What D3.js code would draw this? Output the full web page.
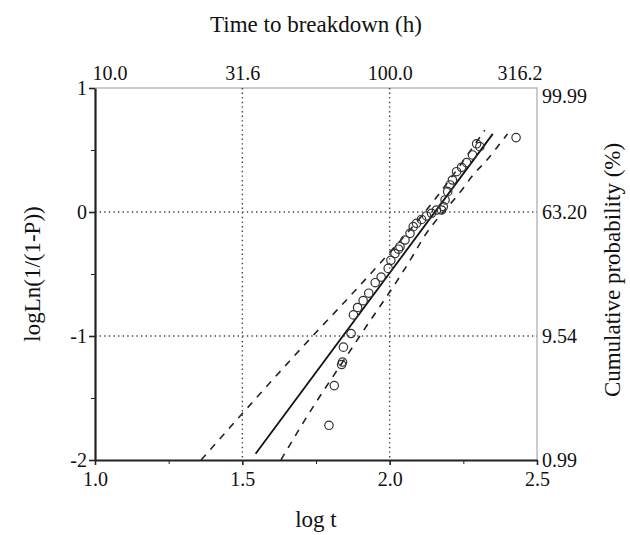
<!DOCTYPE html>
<html>
<head>
<meta charset="utf-8">
<script src="https://cdn.jsdelivr.net/npm/d3@7"></script>
<style>
  body { margin: 0; background: #fff; }
  svg { display: block; font-family: "Liberation Serif", "Times New Roman", serif; }
  .axis { font-family: "Liberation Serif", "Times New Roman", serif; }
  .axis path, .axis line { stroke: #222; }
  .axis text { font-size: 20px; fill: #111; }
  .grid { stroke: #444; stroke-width: 1.4; stroke-dasharray: 1.4,3.2; }
  .frame { stroke: #bbb; stroke-width: 1.5; fill: none; }
  .fit { stroke: #111; stroke-width: 1.8; fill: none; }
  .band { stroke: #222; stroke-width: 1.6; fill: none; stroke-dasharray: 7,7; }
  .pt { stroke: #333; stroke-width: 1.2; fill: none; }
  .title { font-size: 23px; fill: #111; }
</style>
</head>
<body>
<svg id="chart" width="630" height="535"></svg>
<script>
// observed points (log t, logLn(1/(1-P)))
var logT = [1.794, 1.812, 1.837, 1.840, 1.843, 1.869, 1.877, 1.891, 1.910, 1.929,
            1.951, 1.971, 1.995, 2.004, 2.018, 2.030, 2.035, 2.052, 2.069, 2.080,
            2.091, 2.108, 2.125, 2.142, 2.159, 2.176, 2.182, 2.188, 2.197, 2.205,
            2.213, 2.227, 2.244, 2.261, 2.281, 2.295, 2.306, 2.429];
var logLn = [-1.72, -1.40, -1.23, -1.21, -1.09, -0.98, -0.83, -0.77, -0.715, -0.655,
             -0.57, -0.525, -0.455, -0.39, -0.335, -0.30, -0.28, -0.226, -0.172, -0.118,
             -0.091, -0.06, -0.032, -0.011, 0.016, 0.016, 0.043, 0.097, 0.164, 0.218,
             0.258, 0.325, 0.36, 0.398, 0.46, 0.55, 0.527, 0.60];

// fitted line and confidence bands
var fitLine = [[1.545, -1.95], [2.35, 0.63]];
var upperBand = [[1.36, -2.0], [1.763, -0.938], [1.843, -0.736], [1.967, -0.414],
                 [2.125, 0.016], [2.159, 0.119], [2.323, 0.661]];
var lowerBand = [[1.631, -2.0], [1.696, -1.74], [1.899, -1.0], [2.08, -0.347],
                 [2.108, -0.233], [2.249, 0.19], [2.283, 0.298], [2.325, 0.406], [2.40, 0.63]];

// axis ticks
var xTicks = [1.0, 1.5, 2.0, 2.5];
var xMinor = [1.25, 1.75, 2.25];
var yTicks = [1, 0, -1, -2];
var yMinor = [0.5, -0.5, -1.5];
var topLabels = ["10.0", "31.6", "100.0", "316.2"];
var rightLabels = ["99.99", "63.20", "9.54", "0.99"];
var gridX = [1.5, 2.0];
var gridY = [0, -1];

var svg = d3.select("#chart");
var x = d3.scaleLinear().domain([1, 2.5]).range([95, 537]);
var y = d3.scaleLinear().domain([-2, 1]).range([460, 88]);

// frame (top and right, light)
svg.append("path").attr("class", "frame")
    .attr("d", "M" + x(1) + "," + y(1) + "H" + x(2.5) + "V" + y(-2));

// grid
svg.selectAll("line.gx").data(gridX).enter().append("line")
    .attr("class", "grid")
    .attr("x1", d => x(d)).attr("x2", d => x(d))
    .attr("y1", y(1)).attr("y2", y(-2));
svg.selectAll("line.gy").data(gridY).enter().append("line")
    .attr("class", "grid")
    .attr("x1", x(1)).attr("x2", x(2.5))
    .attr("y1", d => y(d)).attr("y2", d => y(d));

// minor ticks
svg.append("g").attr("class", "axis")
    .attr("transform", "translate(0," + y(-2) + ")")
    .call(d3.axisBottom(x).tickValues(xMinor).tickSize(4).tickFormat(""))
    .select(".domain").remove();
svg.append("g").attr("class", "axis")
    .attr("transform", "translate(" + x(1) + ",0)")
    .call(d3.axisLeft(y).tickValues(yMinor).tickSize(4).tickFormat(""))
    .select(".domain").remove();

// bottom axis
var gx = svg.append("g").attr("class", "axis")
    .attr("transform", "translate(0," + y(-2) + ")")
    .call(d3.axisBottom(x).tickValues(xTicks).tickSize(5).tickSizeOuter(0)
          .tickPadding(7).tickFormat(d3.format(".1f")));
gx.select(".domain").attr("stroke-width", 2.2);
gx.selectAll("line").attr("stroke-width", 1.6);

// left axis
var gy = svg.append("g").attr("class", "axis")
    .attr("transform", "translate(" + x(1) + ",0)")
    .call(d3.axisLeft(y).tickValues(yTicks).tickSize(6).tickSizeOuter(0)
          .tickPadding(2).tickFormat(d => String(d)));
gy.select(".domain").attr("stroke-width", 2.2);
gy.selectAll("line").attr("stroke-width", 1.6);

// top labels (time in hours)
var gt = svg.append("g").attr("class", "axis")
    .attr("transform", "translate(0," + y(1) + ")")
    .call(d3.axisTop(x).tickValues(xTicks).tickSize(0).tickPadding(8)
          .tickFormat((d, i) => topLabels[i]));
gt.select(".domain").remove();
gt.selectAll("text")
    .attr("text-anchor", (d, i) => i === 0 ? "start" : i === xTicks.length - 1 ? "end" : "middle")
    .attr("dx", (d, i) => i === 0 ? -3 : i === xTicks.length - 1 ? 5 : 0);

// right labels (cumulative probability)
var gr = svg.append("g").attr("class", "axis")
    .attr("transform", "translate(" + x(2.5) + ",0)")
    .call(d3.axisRight(y).tickValues(yTicks).tickSize(0).tickPadding(5)
          .tickFormat((d, i) => rightLabels[i]));
gr.select(".domain").remove();
gr.selectAll("text").attr("dy", (d, i) => i === 0 ? "0.7em" : "0.32em");

// confidence bands and fit
var line = d3.line().x(d => x(d[0])).y(d => y(d[1]));
svg.append("path").attr("class", "band").attr("d", line.curve(d3.curveMonotoneX)(upperBand));
svg.append("path").attr("class", "band").attr("d", line.curve(d3.curveMonotoneX)(lowerBand));
svg.append("path").attr("class", "fit").attr("d", line.curve(d3.curveLinear)(fitLine));

// data points
svg.selectAll("circle.pt")
    .data(d3.zip(logT, logLn))
    .enter()
    .append("circle")
    .attr("class", "pt")
    .attr("cx", d => x(d[0]))
    .attr("cy", d => y(d[1]))
    .attr("r", 4.2);

// titles
svg.append("text").attr("class", "title")
    .attr("x", 316).attr("y", 32).attr("text-anchor", "middle")
    .text("Time to breakdown (h)");
svg.append("text").attr("class", "title")
    .attr("x", 316).attr("y", 527).attr("text-anchor", "middle")
    .text("log t");
svg.append("text").attr("class", "title")
    .attr("transform", "translate(40,274) rotate(-90)")
    .attr("text-anchor", "middle")
    .text("logLn(1/(1-P))");
svg.append("text").attr("class", "title")
    .attr("transform", "translate(620,270) rotate(-90)")
    .attr("text-anchor", "middle")
    .text("Cumulative probability (%)");
</script>
</body>
</html>
